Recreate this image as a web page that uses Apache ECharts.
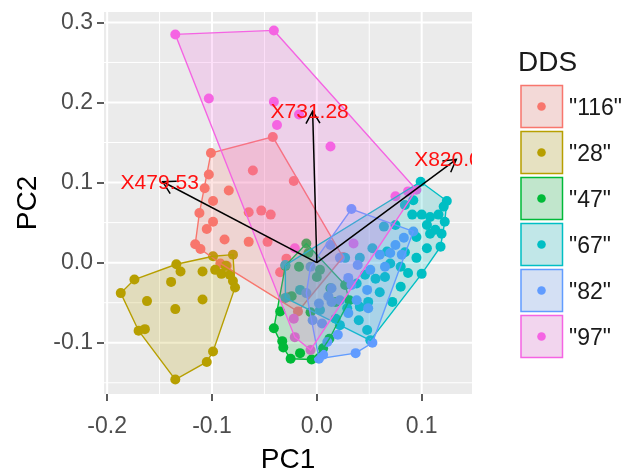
<!DOCTYPE html>
<html>
<head>
<meta charset="utf-8">
<script src="https://cdn.jsdelivr.net/npm/echarts@6/dist/echarts.min.js"></script>
<style>html,body{margin:0;padding:0;background:#fff}#c{width:631px;height:470px}</style>
</head>
<body>
<div id="c"></div>
<script>
// ---- data ----
const categories = ['"116"', '"28"', '"47"', '"67"', '"82"', '"97"'];
const groupColors = ['#F8766D', '#B79F00', '#00BA38', '#00BFC4', '#619CFF', '#F564E3'];

const pts116 = [[-0.101,0.137],[-0.042,0.157],[-0.061,0.115],[-0.022,0.102],[-0.103,0.110],[-0.107,0.093],[-0.084,0.090],[-0.099,0.077],[-0.112,0.062],[-0.099,0.051],[-0.105,0.042],[-0.065,0.063],[-0.053,0.065],[-0.044,0.060],[-0.088,0.029],[-0.065,0.026],[-0.047,0.026],[-0.116,0.023],[-0.111,0.017],[-0.029,0.005],[-0.035,-0.012],[-0.027,-0.043],[-0.018,-0.061],[0.025,0.007],[-0.092,-0.001],[-0.086,-0.004]];
const pts28 = [[-0.187,-0.038],[-0.174,-0.021],[-0.162,-0.048],[-0.170,-0.085],[-0.164,-0.083],[-0.135,-0.146],[-0.105,-0.124],[-0.099,-0.111],[-0.135,-0.058],[-0.139,-0.024],[-0.134,-0.002],[-0.130,-0.011],[-0.109,-0.011],[-0.109,-0.046],[-0.099,0.008],[-0.080,0.010],[-0.097,-0.009],[-0.091,-0.014],[-0.083,-0.015],[-0.080,-0.023],[-0.078,-0.031],[-0.087,-0.004]];
const pts47 = [[-0.010,0.024],[-0.008,0.012],[-0.017,-0.005],[0.003,-0.009],[0.000,-0.018],[0.013,-0.032],[0.027,-0.028],[0.018,-0.049],[0.031,-0.047],[-0.035,-0.061],[-0.041,-0.082],[-0.033,-0.098],[-0.032,-0.106],[-0.025,-0.120],[-0.016,-0.113],[-0.005,-0.121],[0.006,-0.107],[0.012,-0.095],[-0.024,-0.042],[-0.006,-0.062],[-0.030,-0.004]];
const pts67 = [[0.099,0.101],[0.124,0.077],[0.092,0.078],[0.091,0.060],[0.100,0.060],[0.108,0.057],[0.116,0.060],[0.121,0.070],[0.122,0.051],[0.105,0.047],[0.113,0.041],[0.108,0.036],[0.119,0.036],[0.118,0.020],[0.105,0.018],[0.095,0.006],[0.095,0.032],[0.087,-0.013],[0.100,-0.014],[0.080,-0.030],[0.065,-0.018],[0.060,-0.037],[0.049,-0.049],[0.040,-0.072],[0.048,-0.084],[0.051,-0.097],[0.084,0.013],[0.067,0.014],[0.070,-0.001],[0.080,-0.005],[0.056,-0.020],[0.046,-0.015],[0.038,-0.026],[0.041,-0.055],[0.029,-0.057],[0.018,-0.070],[0.064,0.045],[0.053,0.018],[0.041,0.006],[0.075,0.047],[0.084,0.072],[0.072,-0.049],[0.027,0.006],[-0.030,-0.003],[-0.016,-0.034],[0.003,-0.059],[0.022,-0.078],[-0.030,-0.044]];
const pts82 = [[0.033,0.067],[0.092,0.039],[0.083,0.031],[0.081,0.010],[0.070,0.012],[0.065,-0.005],[0.060,0.010],[0.039,-0.003],[0.030,-0.019],[0.048,-0.034],[0.033,-0.028],[0.014,-0.032],[0.011,-0.042],[0.014,-0.049],[0.022,-0.047],[0.002,-0.051],[-0.010,-0.038],[0.049,-0.057],[0.030,-0.063],[0.005,-0.076],[-0.004,-0.072],[0.010,-0.099],[0.020,-0.090],[0.006,-0.115],[0.002,-0.120],[0.037,-0.113],[0.053,-0.100],[0.013,0.022],[-0.006,-0.005],[0.022,0.006],[0.038,-0.047],[0.075,0.022],[0.051,-0.009]];
const pts97 = [[-0.135,0.285],[-0.041,0.290],[-0.103,0.205],[-0.041,0.201],[-0.038,0.172],[-0.017,0.185],[0.013,0.145],[0.075,0.083],[0.087,0.089],[0.095,0.091],[-0.021,0.018],[0.035,0.024],[-0.022,-0.070],[-0.021,-0.093],[-0.006,-0.109]];
const groupPoints = [pts116, pts28, pts47, pts67, pts82, pts97];

// loadings (arrows)
const varNames = ['X479.53', 'X731.28', 'X820.05'];
const varPC1 = [-0.147, -0.004, 0.133];
const varPC2 = [0.101, 0.189, 0.129];

// axes
const xTicks = [-0.2, -0.1, 0.0, 0.1];
const yTicks = [-0.1, 0.0, 0.1, 0.2, 0.3];
const xMinor = [-0.15, -0.05, 0.05];
const yMinor = [-0.15, -0.05, 0.05, 0.15, 0.25];
const xRange = [-0.203, 0.148];
const yRange = [-0.164, 0.313];

// ---- helpers ----
function hexA(hex, a) {
  const n = parseInt(hex.slice(1), 16);
  return 'rgba(' + ((n >> 16) & 255) + ',' + ((n >> 8) & 255) + ',' + (n & 255) + ',' + a + ')';
}
function convexHull(p) {
  const pts = p.slice().sort((a, b) => a[0] - b[0] || a[1] - b[1]);
  const cross = (o, a, b) => (a[0] - o[0]) * (b[1] - o[1]) - (a[1] - o[1]) * (b[0] - o[0]);
  const lower = [], upper = [];
  for (const q of pts) { while (lower.length >= 2 && cross(lower[lower.length - 2], lower[lower.length - 1], q) <= 0) lower.pop(); lower.push(q); }
  for (let i = pts.length - 1; i >= 0; i--) { const q = pts[i]; while (upper.length >= 2 && cross(upper[upper.length - 2], upper[upper.length - 1], q) <= 0) upper.pop(); upper.push(q); }
  upper.pop(); lower.pop();
  return lower.concat(upper);
}

const FONT = '"Liberation Sans", Arial, sans-serif';
const series = [];

// grid lines
series.push({
  type: 'custom', coordinateSystem: 'cartesian2d', z: 1, silent: true,
  data: [[0, 0]],
  renderItem: function (params, api) {
    const ch = [];
    const add = (v, isX, w) => {
      const a = isX ? api.coord([v, yRange[0]]) : api.coord([xRange[0], v]);
      const b = isX ? api.coord([v, yRange[1]]) : api.coord([xRange[1], v]);
      ch.push({ type: 'line', shape: { x1: a[0], y1: a[1], x2: b[0], y2: b[1] }, style: { stroke: '#FFFFFF', lineWidth: w } });
    };
    xMinor.forEach(v => add(v, true, 1)); yMinor.forEach(v => add(v, false, 1));
    xTicks.forEach(v => add(v, true, 2)); yTicks.forEach(v => add(v, false, 2));
    return { type: 'group', children: ch };
  }
});

// points
groupPoints.forEach((pts, i) => {
  series.push({
    name: categories[i], type: 'scatter', data: pts, symbolSize: 10, z: 2, silent: true,
    itemStyle: { color: groupColors[i], opacity: 1 }
  });
});

// hulls
groupPoints.forEach((pts, i) => {
  const hull = convexHull(pts);
  series.push({
    type: 'custom', coordinateSystem: 'cartesian2d', z: 3, silent: true, clip: true,
    data: [[0, 0]],
    renderItem: function (params, api) {
      return {
        type: 'polygon',
        shape: { points: hull.map(q => api.coord(q)) },
        style: { fill: hexA(groupColors[i], 0.2), stroke: groupColors[i], lineWidth: 1.4 }
      };
    }
  });
});

// arrows + labels
series.push({
  type: 'custom', coordinateSystem: 'cartesian2d', z: 4, silent: true, clip: true,
  data: varPC1.map((v, i) => [v, varPC2[i]]),
  renderItem: function (params, api) {
    const i = params.dataIndex;
    const o = api.coord([0, 0]);
    const t = api.coord([varPC1[i], varPC2[i]]);
    const ang = Math.atan2(t[1] - o[1], t[0] - o[0]);
    const L = 14, A = Math.PI / 6;
    const h1 = [t[0] - L * Math.cos(ang - A), t[1] - L * Math.sin(ang - A)];
    const h2 = [t[0] - L * Math.cos(ang + A), t[1] - L * Math.sin(ang + A)];
    const st = { stroke: '#000', lineWidth: 1.5 };
    return {
      type: 'group', children: [
        { type: 'line', shape: { x1: o[0], y1: o[1], x2: t[0], y2: t[1] }, style: st },
        { type: 'polyline', shape: { points: [h1, t, h2] }, style: Object.assign({ fill: null }, st) },
        { type: 'text', z2: 10, style: { text: varNames[i], x: t[0] - 3, y: t[1] + 1, fill: '#FF1010', font: '21px ' + FONT, align: 'center', verticalAlign: 'middle' } }
      ]
    };
  }
});

// legend (manual, ggplot-like)
const graphics = [{ type: 'text', style: { text: 'DDS', x: 518, y: 63, fill: '#1A1A1A', font: '28px ' + FONT, verticalAlign: 'middle' } }];
categories.forEach((c, i) => {
  const y0 = 85 + i * 46;
  graphics.push({ type: 'rect', shape: { x: 520.5, y: y0, width: 42.5, height: 43 }, style: { fill: '#F2F2F2' } });
  graphics.push({ type: 'rect', shape: { x: 521, y: y0 + 0.5, width: 41.5, height: 42 }, style: { fill: hexA(groupColors[i], 0.2), stroke: groupColors[i], lineWidth: 1.5 } });
  graphics.push({ type: 'circle', shape: { cx: 541.5, cy: y0 + 21.5, r: 4.3 }, style: { fill: groupColors[i] } });
  graphics.push({ type: 'text', style: { text: c, x: 569, y: y0 + 23.5, fill: '#1A1A1A', font: '23px ' + FONT, verticalAlign: 'middle' } });
});

const chart = echarts.init(document.getElementById('c'), null, { renderer: 'canvas' });
chart.setOption({
  animation: false,
  backgroundColor: '#FFFFFF',
  grid: { left: 104, right: 159, top: 12, bottom: 76, show: true, backgroundColor: '#EBEBEB', borderWidth: 0, containLabel: false, outerBoundsMode: 'none' },
  xAxis: {
    type: 'value', min: xRange[0], max: xRange[1], position: 'bottom',
    name: 'PC1', nameLocation: 'middle', nameGap: 52,
    nameTextStyle: { fontFamily: FONT, fontSize: 28, color: '#000' },
    axisLine: { show: false, onZero: false },
    axisTick: { show: true, customValues: xTicks, length: 7, lineStyle: { color: '#333333', width: 1.6 } },
    axisLabel: { customValues: xTicks, margin: 21, fontFamily: FONT, fontSize: 23, color: '#4D4D4D', formatter: v => v.toFixed(1) },
    splitLine: { show: false }
  },
  yAxis: {
    type: 'value', min: yRange[0], max: yRange[1], position: 'left',
    name: 'PC2', nameLocation: 'middle', nameGap: 60,
    nameTextStyle: { fontFamily: FONT, fontSize: 28, color: '#000' },
    axisLine: { show: false, onZero: false },
    axisTick: { show: true, customValues: yTicks, length: 7, lineStyle: { color: '#333333', width: 1.6 } },
    axisLabel: { customValues: yTicks, margin: 11, fontFamily: FONT, fontSize: 23, color: '#4D4D4D', formatter: v => v.toFixed(1) },
    splitLine: { show: false }
  },
  graphic: graphics,
  series: series
});
</script>
</body>
</html>
